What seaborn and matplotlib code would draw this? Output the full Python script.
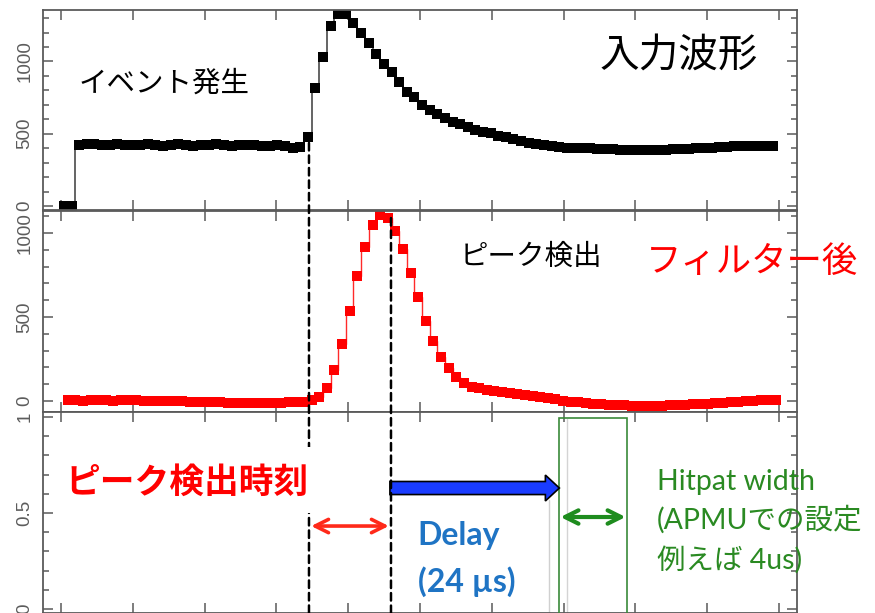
import numpy as np
import matplotlib
matplotlib.use("Agg")
import matplotlib.pyplot as plt
from matplotlib.ticker import MultipleLocator
from matplotlib.patches import ConnectionPatch, FancyArrow, Rectangle
import seaborn as sns

# ---- data ---------------------------------------------------------------
bin_w = 1.061          # bin width (µs)
t0 = 0.42              # centre of the first bin (µs)

# input waveform (ADC counts), one value per bin
raw_wave = [0, 0,
            422, 426, 428, 421, 425, 430, 424, 420, 423, 427,
            425, 418, 421, 426, 422, 417, 420, 424, 427, 419,
            416, 422, 425, 420, 418, 414, 420, 416, 400, 408,
            480, 815, 1033, 1246, 1325, 1325, 1264, 1195, 1126, 1052,
            983, 925, 855, 791, 752, 699, 664, 637, 607, 584,
            565, 545, 526, 514, 503, 487, 475, 462, 452, 438,
            429, 420, 415, 410, 403, 401, 400, 398, 396, 394,
            392, 390, 388, 387, 386, 387, 388, 390, 392, 394,
            396, 398, 401, 404, 407, 410, 412, 414, 416, 415,
            413, 412]

# filtered waveform used for peak detection
filtered_wave = [4, 5, 3, 4, 5, 4, 3, 4, 5, 4,
                 3, 2, 3, 2, 0, -2, -4, -5, -6, -6,
                 -8, -9, -10, -10, -9, -10, -11, -10, -9, -8,
                 -6, -3, 5, 22, 75, 185, 339, 536, 744, 918,
                 1048, 1107, 1087, 1014, 903, 764, 617, 478, 359, 264,
                 195, 145, 105, 85, 75, 67, 60, 54, 48, 42,
                 36, 30, 24, 17, 10, 3, -3, -8, -12, -16,
                 -19, -22, -24, -26, -27, -28, -28, -28, -27, -26,
                 -24, -22, -20, -18, -15, -13, -10, -7, -4, -1,
                 2, 5, 6, 7]

t_raw = t0 + bin_w * np.arange(len(raw_wave))
t_filt = t_raw + bin_w / 2

event_time = 34.54      # µs, start of the pulse
peak_time = 45.96       # µs, peak of the filtered pulse
delay = 23.6            # µs
hitpat_start, hitpat_end = 69.36, 78.83

top_ticks = [0, 500, 1000]
mid_ticks = [0, 500, 1000]
bot_ticks = [0, 0.5, 1]
bot_ticklabels = ["0", "0.5", "1"]

# ---- style --------------------------------------------------------------
sns.set_style("ticks")
plt.rcParams["font.family"] = ["Liberation Sans", "Noto Sans CJK JP"]
JP = ["Noto Sans CJK JP", "DejaVu Sans"]
LAT = ["Lato", "Noto Sans CJK JP"]
SPINE = "#5a5a5a"

W, H = 875, 613
fig = plt.figure(figsize=(W / 100, H / 100), dpi=100)
fig.patch.set_facecolor("white")


def frame(top_px, bot_px):
    left, right = 43, 797
    return [left / W, 1 - bot_px / H, (right - left) / W, (bot_px - top_px) / H]


ax1 = fig.add_axes(frame(10, 210))
ax2 = fig.add_axes(frame(211, 412))
ax3 = fig.add_axes(frame(412, 613))

XLIM = (-2.5, 102.5)
ax1.set_ylim(-28, 1356)
ax2.set_ylim(-65, 1131)
ax3.set_ylim(-0.021, 1.026)

for ax, ticks, minor, labels in [(ax1, top_ticks, 100, None),
                                 (ax2, mid_ticks, 100, None),
                                 (ax3, bot_ticks, 0.1, bot_ticklabels)]:
    ax.set_facecolor("white")
    ax.set_xlim(*XLIM)
    ax.xaxis.set_major_locator(MultipleLocator(10))
    ax.set_yticks(ticks, labels if labels else [str(v) for v in ticks],
                  rotation=90, va="center")
    ax.yaxis.set_minor_locator(MultipleLocator(minor))
    ax.tick_params(axis="both", which="both", direction="in", top=True,
                   right=True, color=SPINE, width=1.1)
    ax.tick_params(axis="both", which="major", length=7.5)
    ax.tick_params(axis="y", which="minor", length=4)
    ax.tick_params(axis="x", labelbottom=False)
    ax.tick_params(axis="y", labelsize=13.5, labelcolor="#5c5c5c", pad=7)
    for s in ax.spines.values():
        s.set_color(SPINE)
        s.set_linewidth(1.3)
    ax.set_xlabel("")
    ax.set_ylabel("")

# ---- waveforms ----------------------------------------------------------
sns.lineplot(x=t_raw, y=raw_wave, ax=ax1, color="#3a3a3a", linewidth=1.1,
             drawstyle="steps-mid", marker="s", markersize=7.4,
             markerfacecolor="black", markeredgewidth=0)
sns.lineplot(x=t_filt, y=filtered_wave, ax=ax2, color="#ff2a2a", linewidth=1.0,
             drawstyle="steps-mid", marker="s", markersize=7.4,
             markerfacecolor="#ff0000", markeredgewidth=0)

ax1.text(86.0, 1038, "入力波形", fontsize=28.5, family=JP, ha="center",
         va="center", color="black")
ax1.text(14.4, 844, "イベント発生", fontsize=20.5, family=JP, ha="center",
         va="center", color="black")
ax2.text(65.4, 857, "ピーク検出", fontsize=20.5, family=JP, ha="center",
         va="center", color="black")
ax2.text(96.2, 827, "フィルター後", fontsize=25.5, family=JP, ha="center",
         va="center", color="#ff0000", clip_on=False)

# ---- timing markers -----------------------------------------------------
dash = (0, (3, 2))
for x, ax_from, y_from in [(event_time, ax1, 436), (peak_time, ax2, 1089)]:
    con = ConnectionPatch(xyA=(x, y_from), coordsA=ax_from.transData,
                          xyB=(x, -0.021), coordsB=ax3.transData,
                          arrowstyle="-", linestyle=dash, linewidth=1.8,
                          color="black", zorder=2)
    fig.add_artist(con)

# white label panel behind the detection-time caption
label_bg = Rectangle((-0.15, 0.50), 35.25, 0.344, transform=ax3.transData,
                     fc="white", ec="none", zorder=4)
fig.add_artist(label_bg)
fig.text(17.6, 0.661, "ピーク検出時刻", transform=ax3.transData, fontsize=25,
         family=JP, weight="bold", ha="center", va="center", color="#ff0000",
         zorder=5)

# peak-detection latency
ax3.annotate("", xy=(event_time + 0.3, 0.432), xytext=(peak_time - 0.3, 0.432),
             arrowprops=dict(arrowstyle="<->", color="#ff2a1a", lw=2.6,
                             mutation_scale=24, shrinkA=0, shrinkB=0))

# delay arrow
ax3.add_patch(FancyArrow(peak_time - 0.15, 0.63, delay, 0, width=0.068,
                         head_width=0.135, head_length=1.95,
                         length_includes_head=True, fc="#1a3cff",
                         ec="black", lw=1.2, zorder=4))
ax3.text(49.7, 0.385, "Delay", fontsize=23, family=LAT, weight="bold",
         ha="left", va="center", color="#1f74c4")
ax3.text(49.7, 0.14, "(24 µs)", fontsize=23, family=LAT, weight="bold",
         ha="left", va="center", color="#1f74c4")
ax3.plot([68.0, 68.0], [0.57, -0.05], color="#d0d0d0", lw=1, zorder=1)

# hit-pattern window
ax3.add_patch(Rectangle((hitpat_start, -0.05), hitpat_end - hitpat_start, 1.045,
                        fill=False, ec="#3a8a3a", lw=1.2, zorder=3))
ax3.plot([70.5, 70.5], [0.99, -0.05], color="#d4d4d4", lw=1, zorder=1)
ax3.annotate("", xy=(hitpat_start + 0.2, 0.479), xytext=(hitpat_end - 0.2, 0.479),
             arrowprops=dict(arrowstyle="<->", color="#1e8c1e", lw=3,
                             mutation_scale=24, shrinkA=0, shrinkB=0))
green = "#2a8a22"
ax3.text(83.0, 0.661, "Hitpat width", fontsize=20.5, family=LAT, ha="left",
         va="center", color=green, clip_on=False)
ax3.text(83.0, 0.464, "(APMUでの設定", fontsize=20.5, family=LAT, ha="left",
         va="center", color=green, clip_on=False)
ax3.text(83.0, 0.255, "例えば 4us)", fontsize=20.5, family=LAT, ha="left",
         va="center", color=green, clip_on=False)

fig.savefig("out.png", dpi=100, facecolor="white")
